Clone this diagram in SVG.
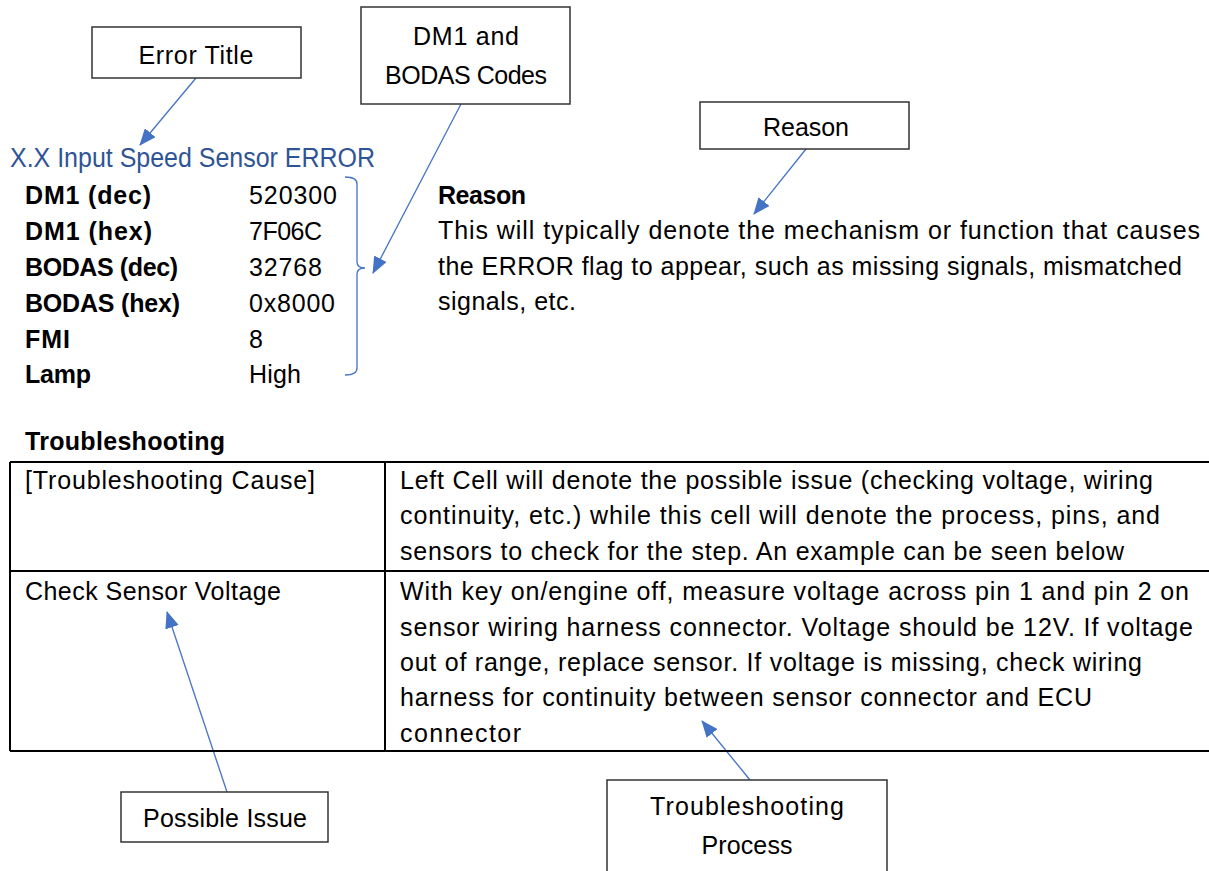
<svg xmlns="http://www.w3.org/2000/svg" width="1209" height="871" viewBox="0 0 1209 871">
<style>
text{font-family:"Liberation Sans",Arial,sans-serif;font-size:25px;fill:#000}
.b{font-weight:bold}
.h{fill:#2F5496;font-size:27px}
.c{text-anchor:middle}
.box{fill:#fff;stroke:#333;stroke-width:1.5}
.ln{stroke:#4472C4;stroke-width:1.3;fill:none}
.tb{stroke:#000;stroke-width:2;fill:none}
</style>
<defs>
<marker id="ah" markerUnits="userSpaceOnUse" markerWidth="18" markerHeight="14" refX="16" refY="7" orient="auto">
<path d="M0,0 L17,7 L0,14 Z" fill="#4472C4"/>
</marker>
</defs>
<g id="connectors">
<line class="ln" x1="196" y1="78" x2="140" y2="145" marker-end="url(#ah)"/>
<line class="ln" x1="461" y1="104" x2="373" y2="273" marker-end="url(#ah)"/>
<line class="ln" x1="806" y1="149" x2="754" y2="214" marker-end="url(#ah)"/>
<line class="ln" x1="227" y1="792" x2="167" y2="612" marker-end="url(#ah)"/>
<line class="ln" x1="750" y1="780" x2="702" y2="721" marker-end="url(#ah)"/>
<path class="ln" d="M345,177 Q357,177 357,184 L357,262 Q357,268 365,268 Q357,268 357,274 L357,368 Q357,375 345,375"/>
</g>
<g id="error-title">
<rect class="box" x="92" y="27" width="209" height="51"/>
<text class="c" x="196" y="64" textLength="115">Error Title</text>
</g>
<g id="dm1-bodas">
<rect class="box" x="361" y="7" width="209" height="97"/>
<text class="c" x="466" y="45" textLength="106">DM1 and</text>
<text class="c" x="466" y="84" textLength="162">BODAS Codes</text>
</g>
<g id="reason-box">
<rect class="box" x="700" y="102" width="209" height="47"/>
<text class="c" x="806" y="136" textLength="86">Reason</text>
</g>
<g id="error-block">
<text class="h" x="10" y="167" textLength="365" lengthAdjust="spacingAndGlyphs">X.X Input Speed Sensor ERROR</text>
<text class="b" x="25" y="204" textLength="126">DM1 (dec)</text>
<text class="b" x="25" y="240" textLength="127">DM1 (hex)</text>
<text class="b" x="25" y="276" textLength="153">BODAS (dec)</text>
<text class="b" x="25" y="312" textLength="155">BODAS (hex)</text>
<text class="b" x="25" y="348" textLength="45">FMI</text>
<text class="b" x="25" y="383" textLength="66">Lamp</text>
<text x="249" y="204" textLength="88">520300</text>
<text x="249" y="240" textLength="73">7F06C</text>
<text x="249" y="276" textLength="73">32768</text>
<text x="249" y="312" textLength="86">0x8000</text>
<text x="249" y="348">8</text>
<text x="249" y="383" textLength="52">High</text>
</g>
<g id="reason-text">
<text class="b" x="438" y="204" textLength="88">Reason</text>
<text x="438" y="239" textLength="762">This will typically denote the mechanism or function that causes</text>
<text x="438" y="275" textLength="744">the ERROR flag to appear, such as missing signals, mismatched</text>
<text x="438" y="310" textLength="138">signals, etc.</text>
</g>
<g id="troubleshooting-table">
<text class="b" x="25" y="450" textLength="200">Troubleshooting</text>
<line class="tb" x1="10" y1="462" x2="1209" y2="462"/>
<line class="tb" x1="10" y1="571" x2="1209" y2="571"/>
<line class="tb" x1="10" y1="751" x2="1209" y2="751"/>
<line class="tb" x1="10" y1="462" x2="10" y2="751"/>
<line class="tb" x1="385" y1="462" x2="385" y2="751"/>
<text x="25" y="489" textLength="290">[Troubleshooting Cause]</text>
<text x="400" y="489" textLength="753">Left Cell will denote the possible issue (checking voltage, wiring</text>
<text x="400" y="524" textLength="760">continuity, etc.) while this cell will denote the process, pins, and</text>
<text x="400" y="560" textLength="724">sensors to check for the step. An example can be seen below</text>
<text x="25" y="600" textLength="256">Check Sensor Voltage</text>
<text x="400" y="600" textLength="789">With key on/engine off, measure voltage across pin 1 and pin 2 on</text>
<text x="400" y="636" textLength="793">sensor wiring harness connector. Voltage should be 12V. If voltage</text>
<text x="400" y="671" textLength="742">out of range, replace sensor. If voltage is missing, check wiring</text>
<text x="400" y="706" textLength="692">harness for continuity between sensor connector and ECU</text>
<text x="400" y="742" textLength="121">connector</text>
</g>
<g id="possible-issue">
<rect class="box" x="121" y="792" width="207" height="50"/>
<text class="c" x="225" y="827" textLength="164">Possible Issue</text>
</g>
<g id="troubleshooting-process">
<rect class="box" x="607" y="780" width="280" height="100"/>
<text class="c" x="747" y="815" textLength="194">Troubleshooting</text>
<text class="c" x="747" y="854" textLength="91">Process</text>
</g>
</svg>
